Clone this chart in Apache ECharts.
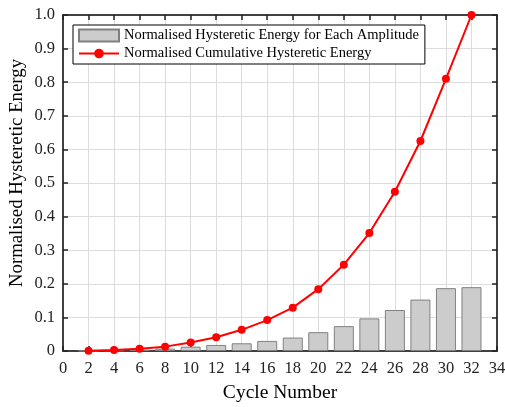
<!DOCTYPE html>
<html><head><meta charset="utf-8">
<script src="https://cdn.jsdelivr.net/npm/echarts@6/dist/echarts.min.js"></script>
<style>html,body{margin:0;padding:0;background:#fff}#c{width:505px;height:407px}</style>
</head><body><div id="c"></div>
<script>
const cycles = [2,4,6,8,10,12,14,16,18,20,22,24,26,28,30,32];
const perAmplitude = [0.001,0.002,0.004,0.007,0.013,0.018,0.023,0.030,0.040,0.056,0.074,0.097,0.122,0.153,0.187,0.190];
const cumulative = [0.001,0.003,0.007,0.013,0.025,0.041,0.063,0.092,0.129,0.184,0.257,0.351,0.474,0.625,0.810,1.0];
const xTicks = [0,2,4,6,8,10,12,14,16,18,20,22,24,26,28,30,32,34];
const yTicks = [0,0.1,0.2,0.3,0.4,0.5,0.6,0.7,0.8,0.9,1.0];

const font = 'Liberation Serif';
const axisCol = '#404040';
const tick = {show:true,inside:true,length:5,lineStyle:{color:'#222',width:1.5}};
const chart = echarts.init(document.getElementById('c'));
chart.setOption({
  animation:false,
  backgroundColor:'#fff',
  grid:{left:63,right:8,top:15,bottom:56,containLabel:false,outerBoundsMode:'none'},
  legend:{
    left:73, top:25, orient:'vertical',
    backgroundColor:'#fff', borderColor:'#000', borderWidth:1,
    padding:[3,6,3,5], itemGap:3,
    itemWidth:40, itemHeight:12,
    textStyle:{fontFamily:font,fontSize:14.5,color:'#000'},
    data:[
      {name:'Normalised Hysteretic Energy for Each Amplitude',icon:'rect'},
      {name:'Normalised Cumulative Hysteretic Energy'}
    ]
  },
  xAxis:[{
    type:'value', min:0, max:34, interval:2,
    name:'Cycle Number', nameLocation:'middle', nameGap:32,
    nameTextStyle:{fontFamily:font,fontSize:19.5,color:'#000'},
    axisLine:{onZero:false,lineStyle:{color:axisCol,width:2}},
    axisTick:tick,
    axisLabel:{fontFamily:font,fontSize:16.5,color:'#222',margin:9},
    splitLine:{show:true,lineStyle:{color:'#dddddd',width:1}}
  },{
    type:'value', min:0, max:34, interval:2, position:'top',
    axisLine:{show:true,onZero:false,lineStyle:{color:axisCol,width:2}},
    axisTick:tick,
    axisLabel:{show:false}, splitLine:{show:false}
  }],
  yAxis:[{
    type:'value', min:0, max:1, interval:0.1,
    name:'Normalised Hysteretic Energy', nameLocation:'middle', nameGap:36,
    nameMoveOverlap:false,
    nameTextStyle:{fontFamily:font,fontSize:18.8,color:'#000',padding:[0,0,0,20]},
    axisLine:{show:true,onZero:false,lineStyle:{color:axisCol,width:2}},
    axisTick:tick,
    axisLabel:{fontFamily:font,fontSize:16.5,color:'#222',margin:8,
      formatter:v=>v===0?'0':v.toFixed(1)},
    splitLine:{show:true,lineStyle:{color:'#dddddd',width:1}}
  },{
    type:'value', min:0, max:1, interval:0.1, position:'right',
    axisLine:{show:true,onZero:false,lineStyle:{color:axisCol,width:2}},
    axisTick:tick,
    axisLabel:{show:false}, splitLine:{show:false}
  }],
  series:[{
    name:'Normalised Hysteretic Energy for Each Amplitude',
    type:'bar', barWidth:20, z:1,
    itemStyle:{color:'#cccccc',borderColor:'#808080',borderWidth:1},
    data:cycles.map((c,i)=>[c,perAmplitude[i]])
  },{
    name:'Normalised Cumulative Hysteretic Energy',
    type:'line', symbol:'circle', symbolSize:8, z:5,
    itemStyle:{color:'#ff0000'},
    lineStyle:{color:'#ff0000',width:2},
    data:cycles.map((c,i)=>[c,cumulative[i]])
  }]
});
</script></body></html>
